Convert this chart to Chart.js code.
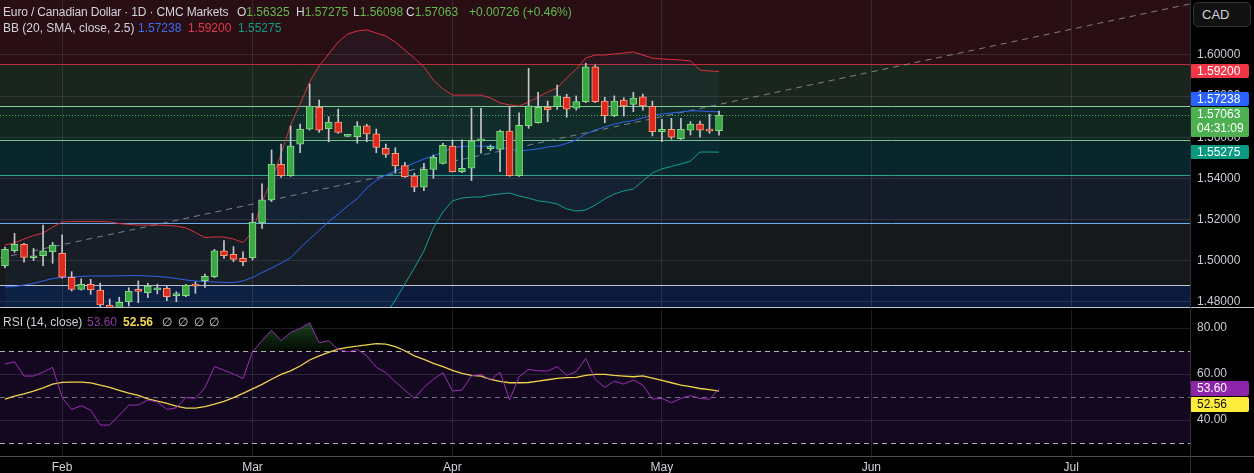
<!DOCTYPE html>
<html>
<head>
<meta charset="utf-8">
<script src="https://cdn.jsdelivr.net/npm/chart.js@4.4.1/dist/chart.umd.min.js"></script>
<style>
  html, body { margin: 0; padding: 0; background: #000; }
  body { width: 1254px; height: 473px; position: relative; overflow: hidden;
         font-family: "Liberation Sans", Arial, sans-serif; }
  canvas { position: absolute; left: 0; }
  #main { top: 0; }
  #rsi { top: 308px; }
  .line { position: absolute; }
  .t { position: absolute; white-space: nowrap; font-size: 12px; line-height: 16px; color: #d1d4dc; }
  .g { color: #62bb4c; }
  #cad { position: absolute; left: 1193px; top: 2px; width: 48px; height: 23px; padding-left: 8px;
         border: 1px solid #30333b; border-radius: 5px; background: #111;
         color: #d1d4dc; font-size: 13px; line-height: 23px; }
</style>
</head>
<body>
<canvas id="main" width="1254" height="308"></canvas>
<canvas id="rsi" width="1254" height="165"></canvas>
<div class="line" style="left:0;top:307px;width:1254px;height:1px;background:#c3c6ce"></div>
<div class="line" style="left:0;top:456px;width:1254px;height:1px;background:#4a4d55"></div>
<div class="line" style="left:1190px;top:0;width:1px;height:473px;background:#2e3036"></div>

<div class="t" style="left:3px;top:4px;letter-spacing:-0.15px">Euro / Canadian Dollar · 1D · CMC Markets</div>
<div class="t" style="left:237px;top:4px">O<span class="g">1.56325</span></div>
<div class="t" style="left:296px;top:4px">H<span class="g">1.57275</span></div>
<div class="t" style="left:353px;top:4px">L<span class="g">1.56098</span></div>
<div class="t" style="left:406px;top:4px">C<span class="g">1.57063</span></div>
<div class="t g" style="left:469px;top:4px">+0.00726 (+0.46%)</div>
<div class="t" style="left:3px;top:20px">BB (20, SMA, close, 2.5)</div>
<div class="t" style="left:138px;top:20px;color:#3a6cf4">1.57238</div>
<div class="t" style="left:188px;top:20px;color:#e23a48">1.59200</div>
<div class="t" style="left:238px;top:20px;color:#169c86">1.55275</div>
<div id="cad">CAD</div>

<div class="t" style="left:3px;top:314px">RSI (14, close)</div>
<div class="t" style="left:87px;top:314px;color:#8e3aa6">53.60</div>
<div class="t" style="left:123px;top:314px;color:#f2d94e;font-weight:bold">52.56</div>
<div class="t" style="left:162px;top:314px">∅</div>
<div class="t" style="left:178px;top:314px">∅</div>
<div class="t" style="left:194px;top:314px">∅</div>
<div class="t" style="left:209px;top:314px">∅</div>

<script>
// ---- data (daily bars, 24 Jan .. 9 May) ----
const monthIdx = [6, 26, 47, 69, 91, 112];
const monthLabels = ["Feb", "Mar", "Apr", "May", "Jun", "Jul"];
const priceTicks = [1.48, 1.50, 1.52, 1.54, 1.56, 1.58, 1.60];
const rsiTicks = [40, 60, 80];

const opens = [1.4975,1.5048,1.5079,1.5014,1.5024,1.5043,1.5036,1.4919,1.4860,1.4885,
  1.4857,1.4784,1.4760,1.4800,1.4855,1.4844,1.4857,1.4865,1.4830,1.4829,
  1.4880,1.4902,1.4922,1.5047,1.5031,1.5011,1.5014,1.5184,1.5295,1.5468,
  1.5413,1.5566,1.5639,1.5747,1.5642,1.5674,1.5604,1.5603,1.5655,1.5616,
  1.5546,1.5522,1.5462,1.5412,1.5357,1.5444,1.5473,1.5557,1.5432,1.5449,
  1.5582,1.5545,1.5541,1.5630,1.5413,1.5656,1.5671,1.5746,1.5749,1.5794,
  1.5741,1.5773,1.5943,1.5776,1.5705,1.5781,1.5760,1.5796,1.5750,1.5627,
  1.5639,1.5593,1.5635,1.5664,1.5639,1.56325];
const highs = [1.5066,1.5133,1.5084,1.5060,1.5173,1.5089,1.5125,1.4946,1.4911,1.4909,
  1.4890,1.4813,1.4822,1.4868,1.4901,1.4890,1.4885,1.4876,1.4849,1.4885,
  1.4897,1.4935,1.5055,1.5097,1.5068,1.5043,1.5230,1.5373,1.5538,1.5567,
  1.5655,1.5664,1.5859,1.5781,1.5700,1.5737,1.5609,1.5676,1.5663,1.5640,
  1.5567,1.5549,1.5478,1.5425,1.5473,1.5514,1.5571,1.5587,1.5587,1.5741,
  1.5741,1.5562,1.5635,1.5749,1.5719,1.5935,1.5819,1.5776,1.5854,1.5809,
  1.5801,1.5960,1.5951,1.5794,1.5801,1.5792,1.5819,1.5810,1.5776,1.5687,
  1.5692,1.5692,1.5676,1.5679,1.5712,1.57275];
const lows = [1.4966,1.5040,1.4992,1.5000,1.4975,1.4987,1.4914,1.4852,1.4856,1.4836,
  1.4760,1.4745,1.4748,1.4779,1.4795,1.4820,1.4838,1.4805,1.4800,1.4824,
  1.4841,1.4870,1.4917,1.5011,1.4995,1.4975,1.5003,1.5157,1.5287,1.5405,
  1.5409,1.5525,1.5635,1.5624,1.5578,1.5619,1.5603,1.5571,1.5578,1.5525,
  1.5502,1.5425,1.5405,1.5335,1.5340,1.5400,1.5470,1.5431,1.5428,1.5389,
  1.5522,1.5535,1.5432,1.5410,1.5410,1.5643,1.5669,1.5676,1.5736,1.5697,
  1.5732,1.5768,1.5768,1.5671,1.5700,1.5703,1.5724,1.5732,1.5606,1.5578,
  1.5591,1.5590,1.5611,1.5600,1.5619,1.56098];
const closes = [1.5055,1.5079,1.5016,1.5022,1.5047,1.5076,1.4919,1.4860,1.4885,1.4857,
  1.4784,1.4760,1.4797,1.4852,1.4850,1.4876,1.4867,1.4824,1.4835,1.4880,
  1.4876,1.4924,1.5047,1.5024,1.5006,1.4995,1.5186,1.5295,1.5470,1.5413,
  1.5557,1.5640,1.5752,1.5635,1.5674,1.5624,1.5607,1.5655,1.5616,1.5551,
  1.5517,1.5462,1.5408,1.5357,1.5444,1.5502,1.5561,1.5432,1.5449,1.5583,
  1.5591,1.5548,1.5630,1.5413,1.5658,1.5753,1.5746,1.5734,1.5801,1.5736,
  1.5773,1.5943,1.5773,1.5705,1.5776,1.5752,1.5791,1.5752,1.5627,1.5639,
  1.5600,1.5639,1.5664,1.5635,1.5630,1.57063];

const bbUpper = [1.5076,1.5086,1.5105,1.5122,1.5134,1.5163,1.5188,1.5190,1.5190,1.5190,
  1.5190,1.5188,1.5180,1.5176,1.5173,1.5173,1.5173,1.5171,1.5168,1.5159,
  1.5137,1.5112,1.5115,1.5115,1.5105,1.5088,1.5139,1.5285,1.5392,1.5519,
  1.5660,1.5762,1.5869,1.5947,1.6005,1.6063,1.6102,1.6117,1.6122,1.6107,
  1.6092,1.6063,1.6024,1.5985,1.5942,1.5878,1.5835,1.5805,1.5805,1.5805,
  1.5805,1.5791,1.5767,1.5757,1.5752,1.5771,1.5796,1.5820,1.5840,1.5888,
  1.5932,1.5985,1.6000,1.6000,1.6005,1.6010,1.6015,1.6000,1.5985,1.5981,
  1.5978,1.5976,1.5971,1.5927,1.5922,1.5920];
const bbBasis = [1.4872,1.4874,1.4881,1.4889,1.4901,1.4913,1.4918,1.4920,1.4923,1.4925,
  1.4925,1.4925,1.4926,1.4927,1.4927,1.4925,1.4923,1.4919,1.4913,1.4906,
  1.4901,1.4898,1.4896,1.4894,1.4893,1.4901,1.4918,1.4942,1.4964,1.4988,
  1.5013,1.5061,1.5105,1.5146,1.5190,1.5227,1.5266,1.5302,1.5353,1.5390,
  1.5416,1.5436,1.5455,1.5475,1.5494,1.5509,1.5528,1.5548,1.5555,1.5557,
  1.5557,1.5555,1.5550,1.5543,1.5533,1.5538,1.5543,1.5553,1.5557,1.5570,
  1.5587,1.5616,1.5635,1.5650,1.5664,1.5674,1.5681,1.5694,1.5706,1.5713,
  1.5718,1.5723,1.5728,1.5728,1.5725,1.57238];
const bbLower = [1.4667,1.4662,1.4658,1.4655,1.4667,1.4662,1.4648,1.4650,1.4655,1.4660,
  1.4660,1.4662,1.4672,1.4677,1.4680,1.4677,1.4672,1.4667,1.4658,1.4653,
  1.4665,1.4684,1.4677,1.4672,1.4680,1.4714,1.4697,1.4599,1.4536,1.4458,
  1.4366,1.4341,1.4341,1.4346,1.4375,1.4390,1.4429,1.4487,1.4585,1.4672,
  1.4740,1.4808,1.4886,1.4964,1.5047,1.5159,1.5236,1.5290,1.5304,1.5309,
  1.5309,1.5319,1.5324,1.5329,1.5314,1.5304,1.5290,1.5285,1.5275,1.5251,
  1.5241,1.5246,1.5270,1.5300,1.5324,1.5339,1.5348,1.5387,1.5426,1.5446,
  1.5458,1.5470,1.5484,1.5528,1.5528,1.55275];

const rsiValues = [64.3,65.3,59.1,59.1,60.8,62.9,49.8,44.6,46.2,44.3,
  37.8,37.8,42.1,46.5,46.5,48.7,47.8,44.6,45.3,49.8,
  49.4,54.0,63.2,61.7,60.0,58.1,69.7,74.5,79.1,74.5,
  78.0,79.8,82.3,73.6,74.5,70.7,69.7,70.7,67.9,62.9,
  60.6,56.6,53.0,49.4,54.2,57.7,60.6,52.6,53.0,59.2,
  59.8,57.4,60.8,48.7,58.8,62.0,61.4,61.3,63.2,59.5,
  61.0,66.8,57.7,54.2,56.9,55.6,57.4,55.2,49.1,49.4,
  47.5,49.4,50.6,49.4,49.0,53.6];
const rsiMa = [49.1,50.4,51.4,52.6,54.0,55.6,56.4,56.5,56.5,56.1,
  55.2,54.2,52.9,51.7,50.7,49.2,48.2,47.2,46.0,45.2,
  45.2,45.8,46.9,48.1,49.7,51.6,53.5,55.5,57.7,59.8,
  61.4,63.5,66.1,67.9,69.4,70.8,71.6,72.1,72.7,73.2,
  73.0,71.9,70.1,67.9,66.4,64.6,63.2,61.6,60.3,59.4,
  59.1,57.7,56.8,56.2,56.2,56.3,56.9,57.5,58.1,58.4,
  58.5,59.4,59.8,59.8,59.4,59.1,58.8,59.2,58.2,57.2,
  56.2,55.2,54.5,53.7,53.2,52.56];

// drawn levels (horizontal lines / zones) and dashed trend line
const levels = [1.59538, 1.57519, 1.55866, 1.54163, 1.51829, 1.48813];
const trendLine = [{ x: -0.5, y: 1.5013 }, { x: 124.5, y: 1.6249 }];
const lastPrice = 1.57063;
const countdown = "04:31:09";
const rsiLevels = [70, 50, 30];

// ---- view / styles ----
const FONT = "'Liberation Sans', Arial, sans-serif";
const xMin = -0.525, xMax = 124.47;
const yMin = 1.47695, yMax = 1.62675;
const rMin = 24.35, rMax = 87.83;
const gridColor = "rgba(130,132,142,0.22)";
const zoneFill = ["#290e13", "#1a251e", "#11261f", "#07252a", "#141c2a", "#17181c", "#0c1b3d"];
const zoneLine = ["#c02c3a", "#86cf92", "#7cc58a", "#2aa590", "#6eaee6", "#c0c6d2"];

const up = (i) => closes[i] >= opens[i];
const pts = (arr) => arr.map((v, i) => ({ x: i, y: v }));

function hline(ctx, a, y, color, dash) {
  ctx.save();
  ctx.strokeStyle = color;
  ctx.lineWidth = 1;
  ctx.setLineDash(dash || []);
  ctx.beginPath();
  const py = Math.round(y) + 0.5;
  ctx.moveTo(a.left, py);
  ctx.lineTo(a.right, py);
  ctx.stroke();
  ctx.restore();
}

function tag(ctx, y, h, bg, lines, fg) {
  ctx.save();
  ctx.fillStyle = bg;
  ctx.beginPath();
  ctx.roundRect(1190, Math.round(y - h / 2), 59, h, 2);
  ctx.fill();
  ctx.fillStyle = fg;
  ctx.font = "12px " + FONT;
  ctx.textBaseline = "middle";
  lines.forEach((t, k) => ctx.fillText(t, 1197, y - h / 2 + 7.5 + k * 14));
  ctx.restore();
}

const zonePlugin = {
  id: "zones",
  beforeDraw(chart) {
    const { ctx, chartArea: a, scales: { y } } = chart;
    const edges = [a.top, ...levels.map((v) => y.getPixelForValue(v)), a.bottom];
    ctx.save();
    zoneFill.forEach((c, k) => {
      ctx.fillStyle = c;
      ctx.fillRect(a.left, edges[k], a.right - a.left, edges[k + 1] - edges[k]);
    });
    ctx.restore();
  },
  beforeDatasetsDraw(chart) {
    const { ctx, chartArea: a, scales: { y } } = chart;
    levels.forEach((v, k) => hline(ctx, a, y.getPixelForValue(v), zoneLine[k]));
    hline(ctx, a, y.getPixelForValue(lastPrice), "#4db35e", [1, 2]);
  },
  afterDraw(chart) {
    const { ctx, scales: { y } } = chart;
    const last = bbUpper.length - 1;
    const pg = y.getPixelForValue(lastPrice);
    const greenTop = pg - 8.5;
    tag(ctx, y.getPixelForValue(bbUpper[last]), 14, "#f23645", [bbUpper[last].toFixed(5)], "#fff");
    tag(ctx, Math.min(y.getPixelForValue(bbBasis[last]), greenTop - 8), 14, "#2962ff", [bbBasis[last].toFixed(5)], "#fff");
    tag(ctx, y.getPixelForValue(bbLower[last]), 14, "#089981", [bbLower[last].toFixed(5)], "#fff");
    tag(ctx, pg + 6.5, 30, "#4caf50", [lastPrice.toFixed(5), countdown], "#fff");
  }
};

const mainChart = new Chart(document.getElementById("main"), {
  type: "line",
  data: {
    datasets: [
      { data: trendLine, borderColor: "rgba(150,153,162,0.8)", borderWidth: 1, borderDash: [6, 5], pointRadius: 0, order: 6 },
      { data: pts(bbUpper), borderColor: "#d9323f", borderWidth: 1, pointRadius: 0, fill: "+2", backgroundColor: "rgba(33,150,243,0.05)", order: 5 },
      { data: pts(bbBasis), borderColor: "#2f62f0", borderWidth: 1, pointRadius: 0, order: 4 },
      { data: pts(bbLower), borderColor: "#13a08a", borderWidth: 1, pointRadius: 0, order: 4 },
      { type: "bar", data: opens.map((o, i) => ({ x: i, y: [lows[i], highs[i]] })),
        backgroundColor: "#c4c6cc", barThickness: 1, grouped: false, order: 2 },
      { type: "bar", data: opens.map((o, i) => ({ x: i, y: [o, closes[i]] })),
        backgroundColor: (c) => (up(c.dataIndex) ? "#3aa845" : "#dc2a1f"),
        borderColor: (c) => (up(c.dataIndex) ? "#86da86" : "#ff9c7c"),
        borderWidth: 1, borderSkipped: false, barThickness: 7, minBarLength: 2, grouped: false, order: 1 }
    ]
  },
  options: {
    responsive: false, animation: false, devicePixelRatio: 1, events: [],
    layout: { padding: 0, autoPadding: false },
    plugins: { legend: { display: false }, tooltip: { enabled: false } },
    scales: {
      x: {
        type: "linear", min: xMin, max: xMax, offset: false,
        afterBuildTicks: (s) => { s.ticks = monthIdx.map((v) => ({ value: v })); },
        afterFit: (s) => { s.height = 0; s.paddingLeft = 0; s.paddingRight = 0; },
        ticks: { display: false },
        grid: { color: gridColor, drawTicks: false, offset: false },
        border: { display: false }
      },
      y: {
        position: "right", min: yMin, max: yMax, beginAtZero: false,
        afterBuildTicks: (s) => { s.ticks = priceTicks.map((v) => ({ value: v })); },
        afterFit: (s) => { s.width = 64; s.paddingTop = 0; s.paddingBottom = 0; },
        ticks: { callback: (v) => v.toFixed(5), color: "#c8cbd3", font: { family: FONT, size: 12 }, padding: 7 },
        grid: { color: gridColor, drawTicks: false },
        border: { display: false }
      }
    }
  },
  plugins: [zonePlugin]
});

const rsiPlugin = {
  id: "rsiBand",
  beforeDraw(chart) {
    const { ctx, chartArea: a, scales: { y } } = chart;
    const t = y.getPixelForValue(rsiLevels[0]);
    const b = y.getPixelForValue(rsiLevels[2]);
    ctx.save();
    ctx.fillStyle = "#13081f";
    ctx.fillRect(a.left, t, a.right - a.left, b - t);
    ctx.restore();
  },
  beforeDatasetsDraw(chart) {
    const { ctx, chartArea: a, scales: { y } } = chart;
    hline(ctx, a, y.getPixelForValue(rsiLevels[0]), "rgba(215,217,224,0.8)", [5, 4]);
    hline(ctx, a, y.getPixelForValue(rsiLevels[1]), "rgba(125,128,140,0.85)", [5, 4]);
    hline(ctx, a, y.getPixelForValue(rsiLevels[2]), "rgba(215,217,224,0.8)", [5, 4]);
  },
  afterDraw(chart) {
    const { ctx, scales: { y } } = chart;
    const r = rsiValues[rsiValues.length - 1];
    const m = rsiMa[rsiMa.length - 1];
    const pr = y.getPixelForValue(r);
    tag(ctx, pr, 15, "#8e24aa", [r.toFixed(2)], "#fff");
    tag(ctx, Math.max(y.getPixelForValue(m), pr + 15.5), 15, "#ffeb3b", [m.toFixed(2)], "#111");
  }
};

const rsiChart = new Chart(document.getElementById("rsi"), {
  type: "line",
  data: {
    datasets: [
      { data: pts(rsiValues), borderColor: "#9a2fb4", borderWidth: 1, pointRadius: 0,
        fill: { target: { value: 70 }, below: "rgba(0,0,0,0)" },
        backgroundColor: (c) => {
          const ch = c.chart;
          if (!ch.chartArea || !ch.scales.y) return "rgba(40,110,50,0.4)";
          const g = ch.ctx.createLinearGradient(0, ch.scales.y.getPixelForValue(84), 0, ch.scales.y.getPixelForValue(70));
          g.addColorStop(0, "rgba(46,125,50,0.6)");
          g.addColorStop(1, "rgba(46,125,50,0.08)");
          return g;
        } },
      { data: pts(rsiMa), borderColor: "#f0d44c", borderWidth: 1.3, pointRadius: 0 }
    ]
  },
  options: {
    responsive: false, animation: false, devicePixelRatio: 1, events: [],
    layout: { padding: { top: 2, left: 0, right: 0, bottom: 0 }, autoPadding: false },
    plugins: { legend: { display: false }, tooltip: { enabled: false } },
    scales: {
      x: {
        type: "linear", min: xMin, max: xMax, offset: false,
        afterBuildTicks: (s) => { s.ticks = monthIdx.map((v) => ({ value: v })); },
        afterFit: (s) => { s.height = 17; s.paddingLeft = 0; s.paddingRight = 0; },
        ticks: { callback: (v) => monthLabels[monthIdx.indexOf(v)], color: "#d1d4dc",
                 font: { family: FONT, size: 12 }, padding: 4, maxRotation: 0, autoSkip: false },
        grid: { color: gridColor, drawTicks: false },
        border: { display: false }
      },
      y: {
        position: "right", min: rMin, max: rMax,
        afterBuildTicks: (s) => { s.ticks = rsiTicks.map((v) => ({ value: v })); },
        afterFit: (s) => { s.width = 64; s.paddingTop = 0; s.paddingBottom = 0; },
        ticks: { callback: (v) => v.toFixed(2), color: "#c8cbd3", font: { family: FONT, size: 12 }, padding: 7 },
        grid: { color: gridColor, drawTicks: false },
        border: { display: false }
      }
    }
  },
  plugins: [rsiPlugin]
});
</script>
</body>
</html>
